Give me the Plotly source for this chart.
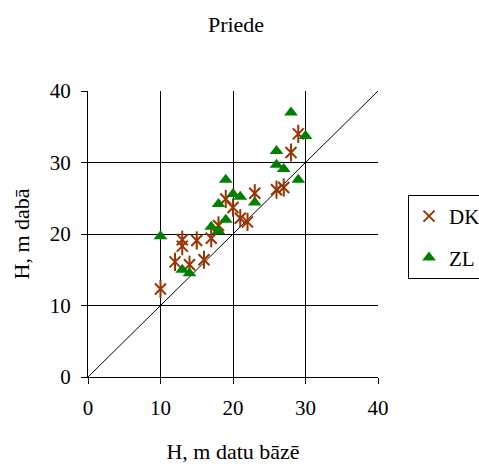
import plotly.graph_objects as go

dk_x = [10, 12, 13, 13, 14, 15, 16, 17, 18, 19, 20, 21, 22, 23, 26, 27, 28, 29]
dk_y = [12.3, 16.1, 19.2, 18.3, 15.7, 19.1, 16.4, 19.4, 21.2, 24.9, 23.7, 22.2, 21.7, 25.7, 26.2, 26.5, 31.4, 34.0]

zl_x = [10, 13, 14, 17, 18, 18, 19, 19, 20, 21, 23, 26, 26, 27, 28, 29, 30]
zl_y = [19.7, 15.0, 14.5, 21.0, 20.4, 24.2, 22.0, 27.6, 25.6, 25.2, 24.4, 31.6, 29.7, 29.1, 37.0, 27.6, 33.7]

line_xy = [0, 40]
ticks = [0, 10, 20, 30, 40]

FONT = "Liberation Serif"
DK_COLOR = "#993300"
ZL_COLOR = "#008000"

fig = go.Figure()
fig.add_trace(go.Scatter(x=line_xy, y=line_xy, mode="lines",
                         line=dict(color="black", width=1), showlegend=False,
                         hoverinfo="skip"))
fig.add_trace(go.Scatter(x=dk_x, y=dk_y, mode="markers", name="DK", legendgroup="dk",
                         marker=dict(symbol="x-thin-open", size=11, color=DK_COLOR,
                                     line=dict(color=DK_COLOR, width=2))))
fig.add_trace(go.Scatter(x=dk_x, y=dk_y, mode="markers", name="DK", legendgroup="dk",
                         showlegend=False,
                         marker=dict(symbol="line-ns-open", size=13, color=DK_COLOR,
                                     line=dict(color=DK_COLOR, width=2))))
fig.add_trace(go.Scatter(x=zl_x, y=zl_y, mode="markers", name="ZL", legendgroup="zl",
                         marker=dict(symbol="triangle-up", size=12, color=ZL_COLOR,
                                     line=dict(width=0))))

axis_common = dict(range=[0, 40], tickvals=ticks, showgrid=True, gridcolor="black",
                   gridwidth=1, zeroline=False, showline=True, linecolor="black",
                   linewidth=1, ticks="outside", ticklen=6, tickcolor="black",
                   ticklabelstandoff=6,
                   tickfont=dict(family=FONT, size=21, color="black"))

fig.update_xaxes(**axis_common,
                 title=dict(text="H, m datu bāzē", font=dict(family=FONT, size=22, color="black"),
                            standoff=24))
fig.update_yaxes(**axis_common,
                 title=dict(text="H, m dabā", font=dict(family=FONT, size=22, color="black"),
                            standoff=14))

fig.update_layout(
    width=479, height=464,
    margin=dict(l=88, r=101, t=91, b=87, autoexpand=False),
    paper_bgcolor="white", plot_bgcolor="white",
    title=dict(text="Priede", x=236 / 479, xanchor="center", xref="container",
               y=1 - 24 / 464, yanchor="middle", yref="container",
               font=dict(family=FONT, size=22, color="black")),
    legend=dict(x=(408 - 88) / 290, y=(377 - 195) / 286, xanchor="left", yanchor="top",
                bordercolor="black", borderwidth=1, bgcolor="white",
                font=dict(family=FONT, size=21, color="black"),
                tracegroupgap=11, itemwidth=30),
    showlegend=True,
)

fig.write_html("out.html")
